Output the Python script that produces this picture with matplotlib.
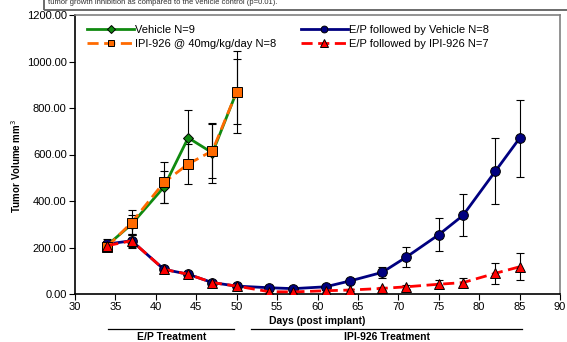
import matplotlib
matplotlib.use("Agg")
import matplotlib.pyplot as plt
import matplotlib.transforms as mtransforms
from matplotlib.patches import Rectangle
from matplotlib.lines import Line2D

plt.rcParams['font.family'] = ['Liberation Sans', 'DejaVu Sans']

# data
days_short = [34, 37, 41, 44, 47, 50]
days_long = [34, 37, 41, 44, 47, 50, 54, 57, 61, 64, 68, 71, 75, 78, 82, 85]

vehicle = [210, 300, 460, 672, 607, 870]
vehicle_err = [25, 40, 70, 120, 130, 140]

ipi = [204, 307, 480, 559, 616, 869]
ipi_err = [20, 54, 87, 87, 115, 175]

ep_vehicle = [215, 229, 106, 85, 49, 34, 27, 23, 31, 56, 93, 159, 255, 338, 528, 670]
ep_vehicle_err = [15, 30, 12, 10, 8, 6, 5, 5, 6, 10, 25, 43, 70, 90, 142, 165]

ep_ipi = [208, 229, 106, 85, 49, 34, 10, 9, 14, 17, 24, 31, 42, 49, 89, 117]
ep_ipi_err = [15, 25, 12, 10, 8, 6, 4, 4, 5, 5, 7, 9, 18, 20, 46, 58]

labels = ["Vehicle N=9", "IPI-926 @ 40mg/kg/day N=8",
          "E/P followed by Vehicle N=8", "E/P followed by IPI-926 N=7"]

phases = ["E/P Treatment", "IPI-926 Treatment"]
phase_spans = [(34.1, 49.7), (51.8, 85.3)]

fig = plt.figure(figsize=(5.67, 3.42), dpi=100)
ax = fig.add_axes([75 / 567, 1 - 294 / 342, 485 / 567, 279 / 342])

# error bars first, under the markers
for x, y, e in [(days_short, vehicle, vehicle_err), (days_short, ipi, ipi_err),
                (days_long, ep_vehicle, ep_vehicle_err), (days_long, ep_ipi, ep_ipi_err)]:
    ax.errorbar(x, y, yerr=e, fmt='none', ecolor='black', elinewidth=0.8,
                capsize=3, capthick=0.8, zorder=1)

l1, = ax.plot(days_short, vehicle, color='#108a10', lw=2.0, marker='D', ms=5.5,
              mfc='#108a10', mec='black', mew=0.7, zorder=3)
l2, = ax.plot(days_short, ipi, color='#ff6a00', lw=2.0, ls=(0, (4, 2)), marker='s', ms=7,
              mfc='#ff6a00', mec='black', mew=0.7, zorder=4)
l3, = ax.plot(days_long, ep_vehicle, color='#000080', lw=2.0, marker='o', ms=7,
              mfc='#000080', mec='black', mew=0.7, zorder=3)
l4, = ax.plot(days_long, ep_ipi, color='#ff0000', lw=2.0, ls=(0, (4, 2)), marker='^', ms=7.5,
              mfc='#ff0000', mec='black', mew=0.7, zorder=4)

leg = ax.legend([l1, l2, l3, l4], labels, loc='upper left', bbox_to_anchor=(0.005, 1.0),
                ncol=2, frameon=False, fontsize=8, handlelength=4.2, handletextpad=0.1,
                columnspacing=2.2, labelspacing=0.35, markerscale=0.7)

ax.set_xlim(30, 90)
ax.set_ylim(0, 1200)
ax.set_xticks(range(30, 91, 5))
ax.set_yticks(range(0, 1201, 200))
ax.set_yticklabels([f"{v:.2f}" for v in range(0, 1201, 200)])
ax.tick_params(labelsize=8, length=4, width=0.8, direction='out', pad=2)

for s in ['left', 'bottom']:
    ax.spines[s].set_color('black')
    ax.spines[s].set_linewidth(1.2)
for s in ['top', 'right']:
    ax.spines[s].set_color('#808080')
    ax.spines[s].set_linewidth(1.2)

ax.set_xlabel("Days (post implant)", fontsize=7.5, fontweight='bold', labelpad=3)
ax.set_ylabel("Tumor Volume mm$^3$", fontsize=7, fontweight='bold')
ax.yaxis.set_label_coords(-0.107, 0.46)

# treatment phase bars below the axis
trans = mtransforms.blended_transform_factory(ax.transData, fig.transFigure)
for name, (a, b) in zip(phases, phase_spans):
    ax.add_line(Line2D([a, b], [1 - 329 / 342] * 2, transform=trans, color='black',
                       lw=0.9, clip_on=False))
    ax.text((a + b) / 2, 1 - 337 / 342, name, transform=trans, ha='center', va='center',
            fontsize=7.5, fontweight='bold', clip_on=False)

# cropped caption box at the top
fig.patches.append(Rectangle((44 / 567, 1 - 10 / 342), 0.99, 0.05, transform=fig.transFigure,
                             fill=False, edgecolor='#606060', lw=1.3))
fig.text(48 / 567, 1 - 2.5 / 342, "tumor growth inhibition as compared to the vehicle control (p=0.01).",
         fontsize=5.5, ha='left', va='center', color='#303030')

fig.savefig("out.png", dpi=100)
